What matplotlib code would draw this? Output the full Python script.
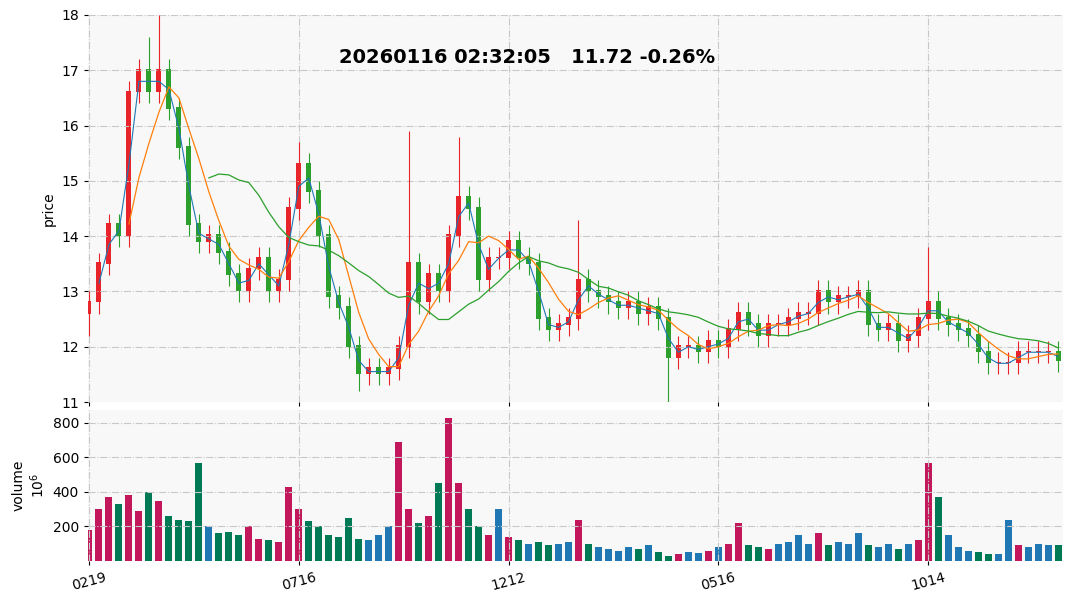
import numpy as np
import pandas as pd
import matplotlib
matplotlib.use("Agg")
from matplotlib import pyplot as plt

# weekly-ish closes
closes = [12.8, 13.5, 14.2, 14.0, 16.6, 17.0, 16.6, 17.0, 16.3, 15.6,
          14.2, 13.9, 14.0, 13.7, 13.3, 13.0, 13.4, 13.6, 13.0, 13.2,
          14.5, 15.3, 14.8, 14.0, 12.9, 12.7, 12.0, 11.5, 11.6, 11.5,
          11.6, 12.0, 13.5, 12.8, 13.3, 13.0, 14.0, 14.7, 14.5, 13.2,
          13.6, 13.6, 13.9, 13.6, 13.5, 12.5, 12.3, 12.4, 12.5, 13.2,
          13.0, 12.9, 12.8, 12.7, 12.8, 12.6, 12.7, 12.5, 11.8, 12.0,
          12.0, 11.9, 12.1, 12.0, 12.3, 12.6, 12.4, 12.2, 12.4, 12.4,
          12.5, 12.6, 12.6, 13.0, 12.8, 12.9, 12.9, 13.0, 12.4, 12.3,
          12.4, 12.1, 12.2, 12.5, 12.8, 12.5, 12.4, 12.3, 12.2, 11.9,
          11.7, 11.7, 11.7, 11.9, 11.9, 11.9, 11.9, 11.75]
volumes = [180, 300, 370, 330, 380, 290, 400, 350, 260, 240,
           230, 570, 200, 160, 170, 150, 200, 130, 120, 110,
           430, 300, 230, 200, 150, 140, 250, 130, 120, 150,
           200, 690, 300, 220, 260, 450, 830, 450, 300, 200,
           150, 300, 140, 120, 100, 110, 90, 100, 110, 240,
           100, 80, 70, 60, 80, 70, 90, 50, 30, 40,
           50, 45, 60, 80, 100, 220, 90, 80, 70, 100,
           110, 150, 100, 160, 90, 110, 100, 160, 90, 80,
           100, 70, 100, 120, 570, 370, 150, 80, 60, 50,
           40, 40, 240, 90, 80, 100, 90, 90]
# notable wick extremes
spike_high = {6: 17.6, 7: 18.0, 21: 15.7, 32: 15.9, 37: 15.8, 49: 14.3, 84: 13.8}
spike_low = {0: 12.2, 27: 11.2, 58: 11.0, 37: 14.0}
tick_pos = [0, 21, 42, 63, 84]
tick_labels = ['0219', '0716', '1212', '0516', '1014']

n = len(closes)
x = np.arange(n)
c = np.array(closes)
o = np.concatenate([[12.6], c[:-1]])
hi = np.maximum(o, c) + 0.2
lo = np.minimum(o, c) - 0.2
for k, v in spike_high.items():
    hi[k] = v
for k, v in spike_low.items():
    lo[k] = min(lo[k], v)

s = pd.Series(c)
ma_fast = s.rolling(2).mean()
ma_mid = s.rolling(5).mean()
ma_slow = s.rolling(13).mean()

fig = plt.figure(figsize=(10.73, 6.02), dpi=100)
axp = fig.add_axes([88/1073, 1-402/602, 975/1073, 387/602])
axv = fig.add_axes([88/1073, 1-561/602, 975/1073, 151/602], sharex=axp)

for ax in (axp, axv):
    ax.set_facecolor('#f8f8f8')
    ax.grid(True, linestyle='-.', color='#c8c8c8', linewidth=0.8)
    for sp in ax.spines.values():
        sp.set_visible(False)
    ax.tick_params(length=3, labelsize=10)

up = c >= o
colors = np.where(up, '#e8232a', '#2ca02c')
axp.vlines(x, lo, hi, colors=colors, linewidth=0.8)
axp.bar(x, np.abs(c - o) + 0.03, bottom=np.minimum(o, c), width=0.5, color=colors)
axp.plot(x, ma_fast, color='#1f77b4', linewidth=0.8)
axp.plot(x, ma_mid, color='#ff7f0e', linewidth=0.9)
axp.plot(x, ma_slow, color='#2ca02c', linewidth=0.9)
axp.set_ylim(11, 18)
axp.set_ylabel('price')
axp.text(0.45, 0.875, '20260116 02:32:05   11.72 -0.26%', transform=axp.transAxes,
         ha='center', fontsize=14, fontweight='bold')
plt.setp(axp.get_xticklabels(), visible=False)

vcol = ['#1f77b4' if abs(c[i] - o[i]) < 0.15 else ('#c2185b' if up[i] else '#007a55')
        for i in range(n)]
axv.bar(x, volumes, width=0.7, color=vcol)
axv.set_ylim(0, 875)
axv.set_yticks([200, 400, 600, 800])
axv.set_ylabel('volume\n$10^6$')
axv.set_xlim(-0.1, n - 0.5)
axv.set_xticks(tick_pos)
axv.set_xticklabels(tick_labels, rotation=15)

fig.savefig('out.png', dpi=100)
